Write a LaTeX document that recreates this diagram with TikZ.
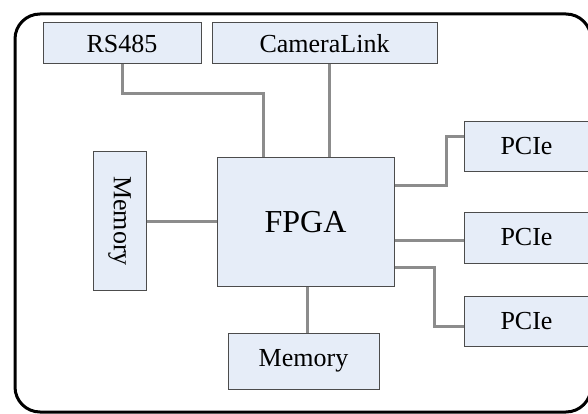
\documentclass[tikz,border=0pt]{standalone}
\usepackage{fontspec}
\setmainfont{Liberation Serif}
\definecolor{boxblue}{RGB}{230,237,248}
\begin{document}
\begin{tikzpicture}[x=1pt,y=-1pt,
    blk/.style={draw=black!70, line width=1pt, fill=boxblue, inner sep=0pt, font=\fontsize{26}{30}\selectfont},
    wire/.style={draw=black!45, line width=3pt}]
    \useasboundingbox (0,0) rectangle (588,414);
    \draw[line width=3pt, rounded corners=25pt] (15,14) rectangle (591,412);

    \node[blk, minimum width=158, minimum height=41] (rs) at (122,43.5) {RS485};
    \node[blk, minimum width=225, minimum height=41] (cam) at (324.5,43.5) {CameraLink};
    \node[blk, minimum width=53, minimum height=138] (meml) at (119.5,221) {\rotatebox{-90}{Memory}};
    \node[blk, minimum width=177, minimum height=128, font=\fontsize{32}{36}\selectfont] (fpga) at (305.5,222) {FPGA};
    \node[blk, minimum width=151, minimum height=56] (memb) at (303.5,361) {Memory};

    \node[blk, minimum width=125, minimum height=49] (pcie1) at (526.5,146.5) {PCIe};
    \node[blk, minimum width=125, minimum height=51] (pcie2) at (526.5,237.5) {PCIe};
    \node[blk, minimum width=125, minimum height=50] (pcie3) at (526.5,321) {PCIe};

    \draw[wire] (rs.south) -- ++(0,29.5) -| ([xshift=-42.5pt]fpga.north);
    \draw[wire] ([xshift=4.5pt]cam.south) -- ([xshift=4.5pt]cam.south |- fpga.north);
    \draw[wire] (meml.east) -- (meml.east -| fpga.west);
    \draw[wire] ([xshift=1.5pt]fpga.south) -- ([xshift=1.5pt]fpga.south |- memb.north);

    \draw[wire] ([yshift=37pt]fpga.east) -- ++(52,0) |- ([yshift=9.5pt]pcie1.west);
    \draw[wire] ([yshift=-18pt]fpga.east) -- ([yshift=-18pt]fpga.east -| pcie2.west);
    \draw[wire] ([yshift=-45pt]fpga.east) -- ++(40,0) |- ([yshift=-5pt]pcie3.west);
\end{tikzpicture}
\end{document}
